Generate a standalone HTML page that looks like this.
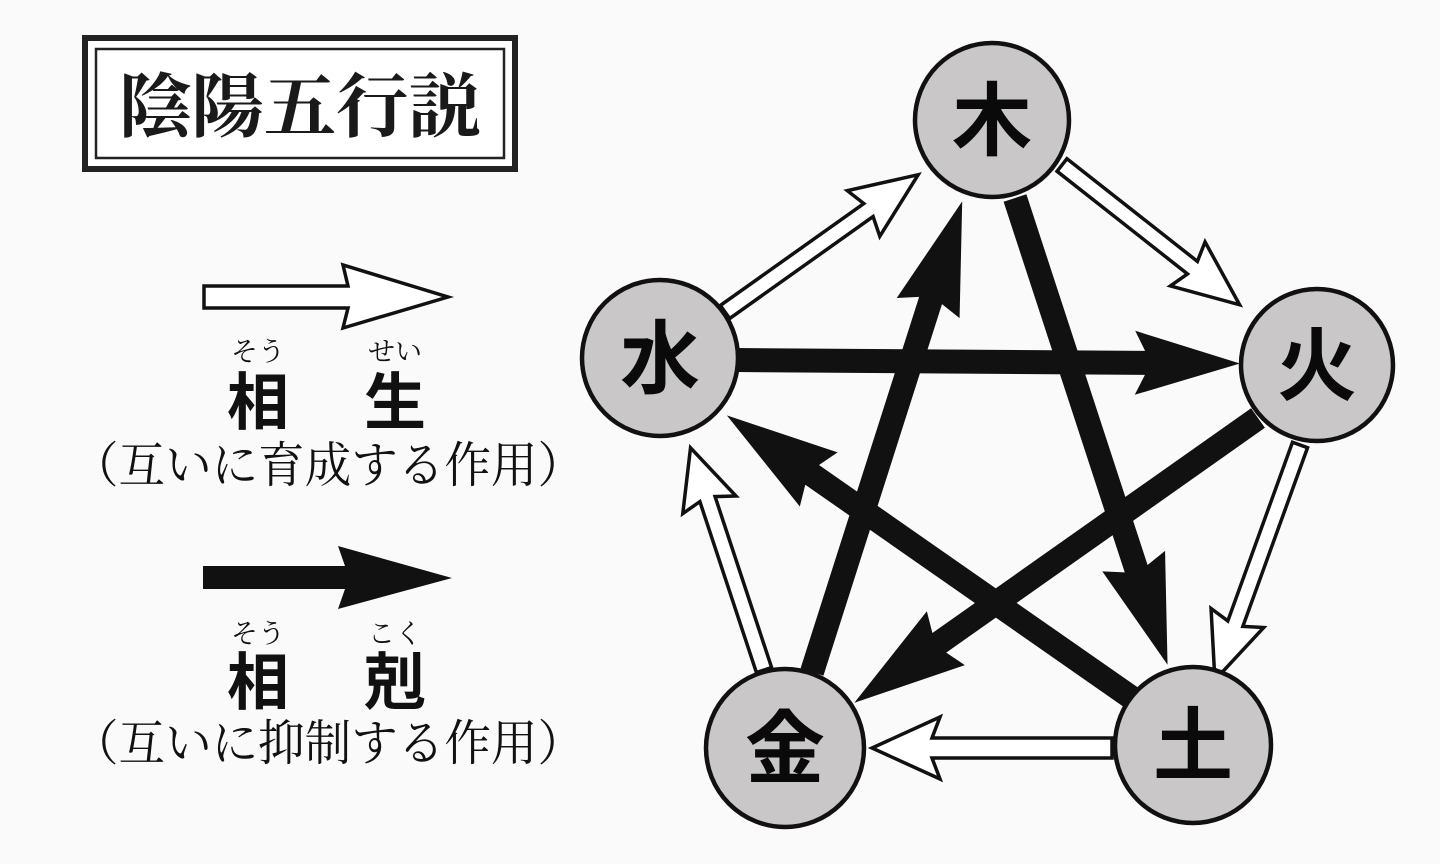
<!DOCTYPE html>
<html><head><meta charset="utf-8"><style>
html,body{margin:0;padding:0;background:#fbfafa;}
svg{display:block}
.serif{font-family:"Liberation Serif","Noto Serif CJK JP","Noto Serif CJK SC",serif;}
.jserif{font-family:"Noto Serif CJK JP","Noto Serif CJK SC",serif;}
.sans{font-family:"Liberation Sans","Noto Sans CJK JP",sans-serif;font-weight:bold;}
</style></head><body>
<svg width="1440" height="864" viewBox="0 0 1440 864" xmlns="http://www.w3.org/2000/svg">
<rect width="1440" height="864" fill="#fbfafa"/>
<rect x="85" y="38" width="430" height="131" fill="#fff" stroke="#222" stroke-width="6"/>
<rect x="96" y="49" width="408" height="109" fill="none" stroke="#222" stroke-width="2.5"/>
<text x="300" y="131" text-anchor="middle" class="serif" font-size="70" font-weight="bold" fill="#1a1a1a" textLength="362" lengthAdjust="spacingAndGlyphs">陰陽五行説</text>

<polygon points="204,286 348,286 343,265 448,297 343,328 348,308 204,308" fill="#fff" stroke="#111" stroke-width="3.5"/>
<text x="258" y="361" text-anchor="middle" class="jserif" font-size="27" fill="#111">そう</text>
<text x="395" y="361" text-anchor="middle" class="jserif" font-size="27" fill="#111">せい</text>
<text x="258" y="424" text-anchor="middle" class="sans" font-size="62" fill="#111">相</text>
<text x="395" y="424" text-anchor="middle" class="sans" font-size="62" fill="#111">生</text>
<text x="72" y="482" class="jserif" font-size="49" fill="#111" textLength="512" lengthAdjust="spacingAndGlyphs">（互いに育成する作用）</text>

<polygon points="203,566 345,566 338,546 452,578 338,609 345,589 203,589" fill="#111"/>
<text x="258" y="643" text-anchor="middle" class="jserif" font-size="27" fill="#111">そう</text>
<text x="395" y="643" text-anchor="middle" class="jserif" font-size="27" fill="#111">こく</text>
<text x="258" y="704" text-anchor="middle" class="sans" font-size="62" fill="#111">相</text>
<text x="395" y="704" text-anchor="middle" class="sans" font-size="62" fill="#111">剋</text>
<text x="72" y="760" class="jserif" font-size="49" fill="#111" textLength="512" lengthAdjust="spacingAndGlyphs">（互いに抑制する作用）</text>

<g fill="#fff" stroke="#111" stroke-width="3.5" stroke-linejoin="miter">
 <g transform="translate(1062,165) rotate(38.2)"><polygon points="0,-8 166,-8 160,-28 226,0 160,28 166,8 0,8"/></g>
 <g transform="translate(1300,445) rotate(109.9)"><polygon points="0,-8 190,-8 184,-28 250,0 184,28 190,8 0,8"/></g>
 <g transform="translate(1112,748) rotate(180)"><polygon points="0,-10 180,-10 172,-31 240,0 172,31 180,10 0,10"/></g>
 <g transform="translate(764,670) rotate(-108.3)"><polygon points="0,-8 180,-8 174,-28 234,0 174,28 180,8 0,8"/></g>
 <g transform="translate(725,312) rotate(-35.4)"><polygon points="0,-8 176,-8 170,-28 237,0 170,28 176,8 0,8"/></g>
</g>

<g fill="#111">
 <g transform="translate(735,360) rotate(0.4)"><polygon points="0,-12 410,-12 400,-32 505,0 400,32 410,12 0,12"/></g>
 <g transform="translate(1015,198) rotate(71.9)"><polygon points="0,-12 390,-12 382,-33 491,0 382,33 390,12 0,12"/></g>
 <g transform="translate(812,672) rotate(-72.3)"><polygon points="0,-12 390,-12 382,-33 494,0 382,33 390,12 0,12"/></g>
 <g transform="translate(1258,418) rotate(144.8)"><polygon points="0,-12 390,-12 382,-33 494,0 382,33 390,12 0,12"/></g>
 <g transform="translate(1132,698) rotate(-145.1)"><polygon points="0,-12 390,-12 382,-33 494,0 382,33 390,12 0,12"/></g>
</g>

<g fill="#c9c7c8" stroke="#111" stroke-width="4.5">
 <circle cx="992" cy="120" r="77"/>
 <circle cx="660" cy="358" r="78"/>
 <circle cx="1317" cy="365" r="76"/>
 <circle cx="785" cy="748" r="79"/>
 <circle cx="1193" cy="745" r="78"/>
</g>
<g class="sans" font-size="80" fill="#0a0a0a" text-anchor="middle">
 <text x="992" y="149">木</text>
 <text x="660" y="387">水</text>
 <text x="1317" y="394">火</text>
 <text x="785" y="777">金</text>
 <text x="1193" y="774">土</text>
</g>
</svg>
</body></html>
